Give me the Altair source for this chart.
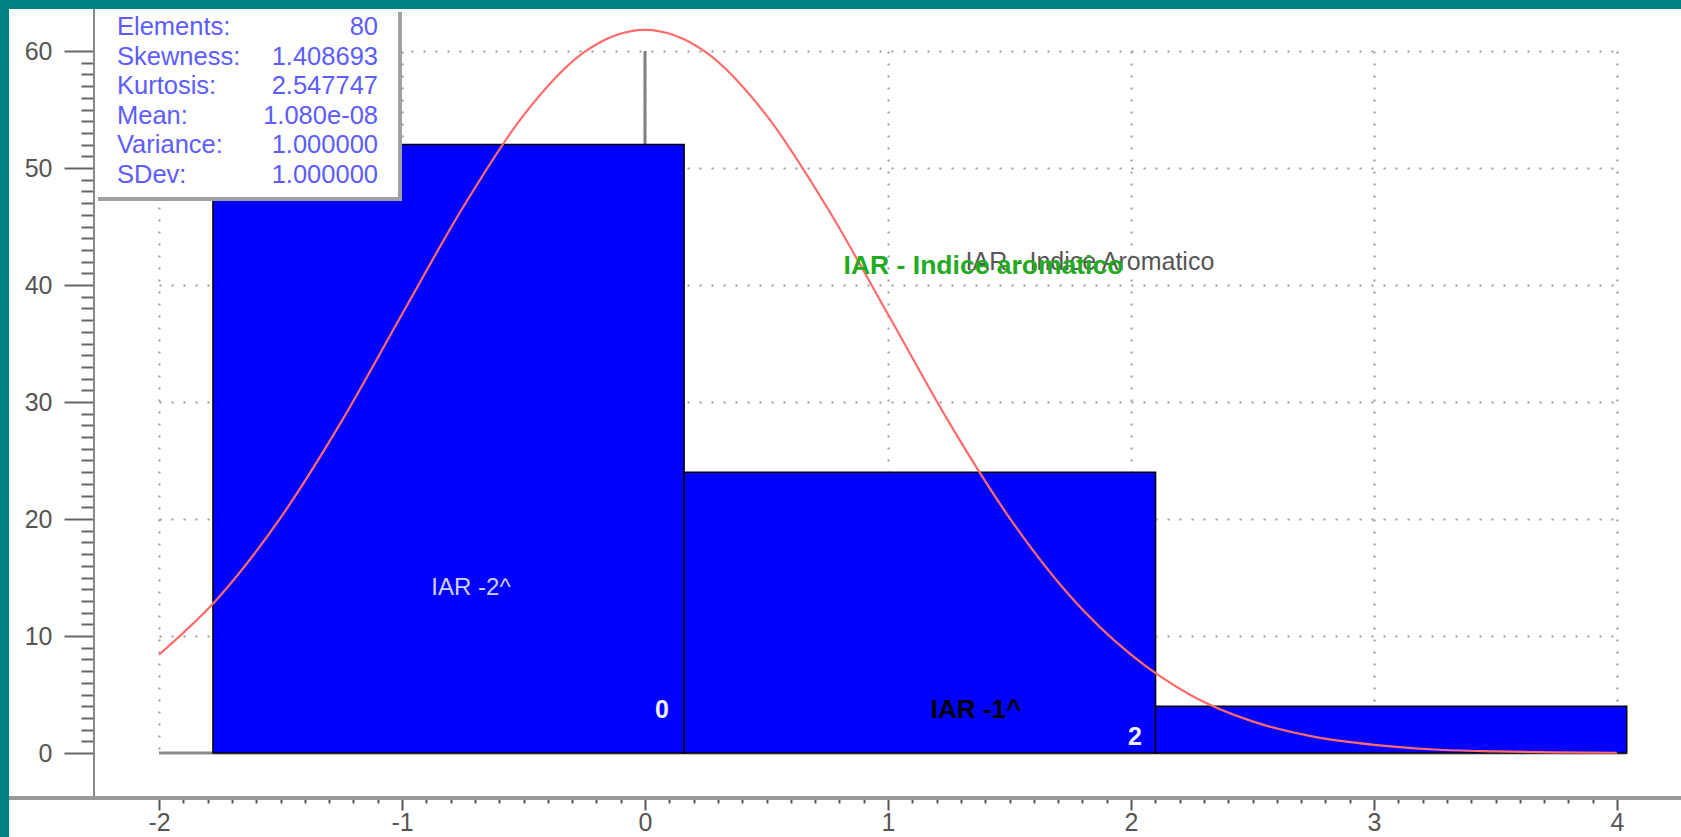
import altair as alt
import pandas as pd

# ---------------- data ----------------
bin_edges = [-1.778, 0.161, 2.101, 4.040]
counts = [52, 24, 4]

curve_x = [-2.0, -1.75, -1.5, -1.25, -1.0, -0.75, -0.5, -0.25, 0.0, 0.25, 0.5, 0.75,
           1.0, 1.25, 1.5, 1.75, 2.0, 2.25, 2.5, 2.75, 3.0, 3.25, 3.5, 3.75, 4.0]
curve_y = [8.4, 13.4, 20.1, 28.3, 37.5, 46.6, 54.5, 59.9, 61.8, 59.9, 54.5, 46.6,
           37.5, 28.3, 20.1, 13.4, 8.4, 4.9, 2.7, 1.4, 0.7, 0.3, 0.14, 0.05, 0.02]

x_ticks = [round(-2 + 0.1 * i, 1) for i in range(61)]
y_ticks = list(range(0, 61))

stats_labels = ["Elements:", "Skewness:", "Kurtosis:", "Mean:", "Variance:", "SDev:"]
stats_values = ["80", "1.408693", "2.547747", "1.080e-08", "1.000000", "1.000000"]
mean_value = 1.080e-08

x_domain = [-2, 4]
y_domain = [0, 60]

# ---------------- styling ----------------
FONT = "Liberation Sans"
int_test = "abs(datum.value - round(datum.value)) < 0.001"

xs = alt.Scale(domain=x_domain, nice=False, zero=False)
ys = alt.Scale(domain=y_domain, nice=False, zero=False)

x_axis = alt.Axis(
    values=x_ticks, title=None, domain=False, offset=45,
    tickSize={"condition": {"test": int_test, "value": 12}, "value": 5},
    tickWidth=2, tickColor="#555555",
    grid=True, gridDash=[2, 10], gridColor="#999999", gridWidth=2,
    gridOpacity={"condition": {"test": int_test, "value": 1}, "value": 0},
    labelExpr=f"{int_test} ? '' + round(datum.value) : ''",
    labelFont=FONT, labelFontSize=25, labelColor="#555555", labelPadding=0,
    labelOverlap=False, labelFlush=False, labelBound=False,
)
y_axis = alt.Axis(
    values=y_ticks, title=None, domain=False, offset=65,
    tickSize={"condition": {"test": "datum.value % 10 === 0", "value": 30}, "value": 13},
    tickWidth=2, tickColor="#666666",
    grid=True, gridDash=[2, 10], gridColor="#999999", gridWidth=2,
    gridOpacity={"condition": {"test": "datum.value % 10 === 0 && datum.value > 0", "value": 1}, "value": 0},
    labelExpr="datum.value % 10 === 0 ? datum.label : ''",
    labelFont=FONT, labelFontSize=25, labelColor="#555555", labelPadding=12,
    labelOverlap=False, labelFlush=False, labelBound=False,
)

one = pd.DataFrame({"k": [0]})

def X(f):
    return alt.X(f, scale=xs, axis=x_axis)

def Y(f):
    return alt.Y(f, scale=ys, axis=y_axis)

# ---------------- layers ----------------
bars_df = pd.DataFrame({"x0": bin_edges[:-1], "x1": bin_edges[1:], "count": counts,
                        "zero": [0] * len(counts)})

baseline = alt.Chart(pd.DataFrame({"a": [x_domain[0]], "b": [bin_edges[-1]], "y": [0]})).mark_rule(
    color="#8c8c8c", strokeWidth=3).encode(x=X("a:Q"), x2="b:Q", y=Y("y:Q"))

mean_rule = alt.Chart(pd.DataFrame({"m": [mean_value], "y0": [y_domain[0]], "y1": [y_domain[1]]})).mark_rule(
    color="#808080", strokeWidth=3).encode(x=X("m:Q"), y=Y("y0:Q"), y2="y1:Q")

bars = alt.Chart(bars_df).mark_rect(color="#0000ff", stroke="#000000", strokeWidth=1.5).encode(
    x=X("x0:Q"), x2="x1:Q", y=Y("count:Q"), y2="zero:Q")

curve = alt.Chart(pd.DataFrame({"x": curve_x, "y": curve_y})).mark_line(
    color="#ff6b6b", strokeWidth=2.2, interpolate="monotone").encode(x=X("x:Q"), y=Y("y:Q"))


def label(text, x, y, **kw):
    df = pd.DataFrame({"x": [x], "y": [y], "t": [text]})
    return alt.Chart(df).mark_text(font=FONT, align="center", baseline="middle", **kw).encode(
        x=X("x:Q"), y=Y("y:Q"), text="t:N")


lab_iar2 = label("IAR -2^", -0.716, 14.1, fontSize=24, color="#d0d0ff")
lab_0 = label("0", 0.07, 3.68, fontSize=25, fontWeight="bold", color="#eeeeff")
lab_2 = label("2", 2.016, 1.37, fontSize=25, fontWeight="bold", color="#eeeeff")
lab_iar1 = label("IAR -1^", 1.362, 3.68, fontSize=26, fontWeight="bold", color="#000000")
title_gray = label("IAR - Indice Aromatico", 1.831, 41.97, fontSize=25, color="#555555")
title_green = label("IAR - Indice aromatico", 1.393, 41.6, fontSize=26.5, fontWeight="bold", color="#22aa22")


def box(x, x2, y, y2, color):
    return alt.Chart(one).mark_rect(color=color).encode(
        x=alt.value(x), x2=alt.value(x2), y=alt.value(y), y2=alt.value(y2))


def hrule(x, x2, y, color, w):
    return alt.Chart(one).mark_rule(color=color, strokeWidth=w).encode(
        x=alt.value(x), x2=alt.value(x2), y=alt.value(y))


def vrule(x, y, y2, color, w):
    return alt.Chart(one).mark_rule(color=color, strokeWidth=w).encode(
        x=alt.value(x), y=alt.value(y), y2=alt.value(y2))


stats_shadow = box(-61, 243, -39, 150, "#a0a0a0")
stats_box = box(-64, 239, -42, 146, "#ffffff")
stats_lab = alt.Chart(one).mark_text(font=FONT, fontSize=25.5, align="left", baseline="top",
                                     lineHeight=29.5, color="#5c5cff").encode(
    x=alt.value(-42), y=alt.value(-36), text=alt.value(stats_labels))
stats_val = alt.Chart(one).mark_text(font=FONT, fontSize=25.5, align="right", baseline="top",
                                     lineHeight=29.5, color="#5c5cff").encode(
    x=alt.value(219), y=alt.value(-36), text=alt.value(stats_values))

y_line = vrule(-65, -42, 747, "#888888", 2)
x_line = hrule(-150, 1522, 747, "#999999", 4)

teal_left = box(-159, -150, -51, 786, "#008080")
teal_top = box(-159, 1522, -51, -42, "#008080")

chart = alt.layer(
    baseline, mean_rule, bars, curve,
    lab_iar2, lab_0, lab_2, lab_iar1, title_gray, title_green,
    stats_shadow, stats_box, stats_lab, stats_val,
    y_line, x_line, teal_left, teal_top,
).properties(
    width=1458, height=702,
    padding={"left": 159, "top": 51, "right": 64, "bottom": 84},
    autosize=alt.AutoSizeParams(type="none"),
    background="white",
).configure_view(stroke=None)

chart.save("out.html", embed_options={"renderer": "svg", "actions": False})
